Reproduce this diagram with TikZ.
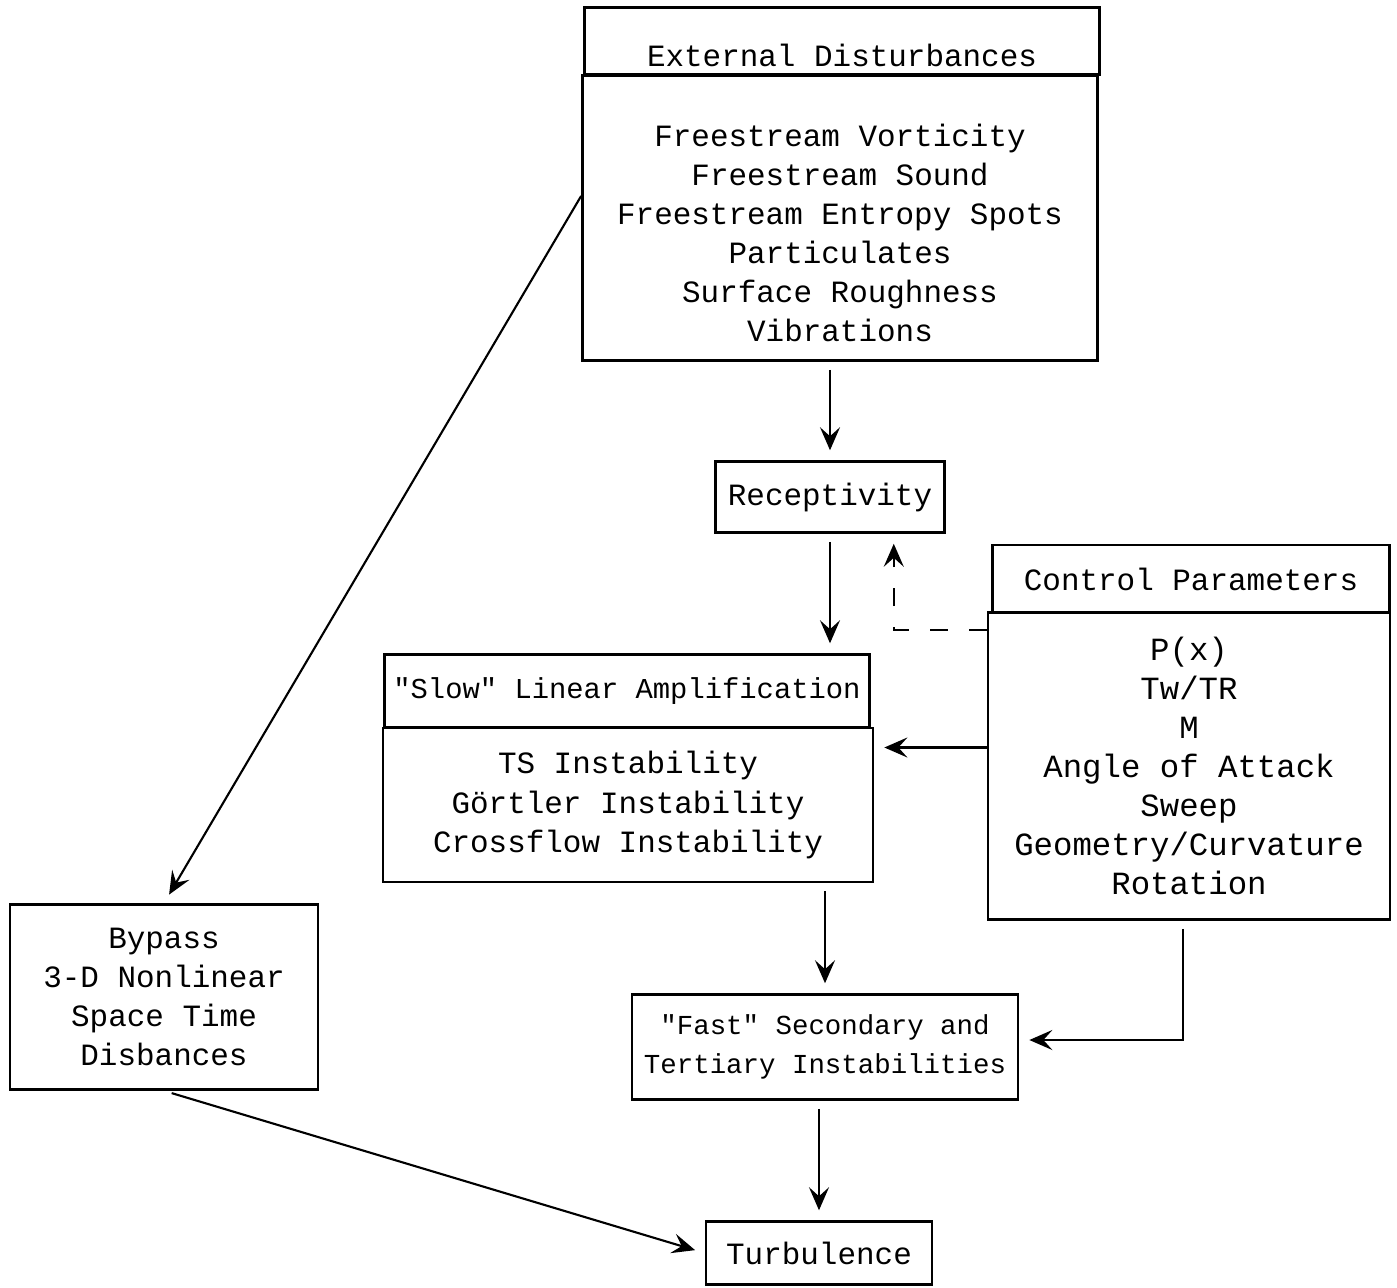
\documentclass[tikz,border=0pt]{standalone}
\usepackage{fontspec}
\setmonofont{Liberation Mono}
\usetikzlibrary{arrows.meta}

\begin{document}
\begin{tikzpicture}[x=0.01cm,y=-0.01cm,
  box/.style={draw,line width=0.7pt,inner sep=0pt,align=center,
    font=\ttfamily\fontsize{#1}{11.1}\selectfont},
  box/.default=8.8,
  arr/.style={line width=0.6pt,-{Stealth[length=2.3mm,width=2mm,inset=0.9mm]},
    shorten >=1mm,shorten <=0.8mm}]
\useasboundingbox (0,0) rectangle (1397,1287);
\node[box,minimum width=5.15cm,minimum height=0.67cm] (exthead) at (842,41) {\\[0.13cm]External Disturbances};
\node[box,minimum width=5.15cm,minimum height=2.85cm] (extbody) at (840,218) {\\[0.13cm]Freestream Vorticity\\Freestream Sound\\Freestream Entropy Spots\\Particulates\\Surface Roughness\\Vibrations};
\node[box,minimum width=2.29cm,minimum height=0.71cm] (recep) at (830,497) {Receptivity};
\node[box,minimum width=3.97cm,minimum height=0.68cm] (ctrlhead) at (1191,579) {Control Parameters};
\node[box=9.2,minimum width=4.02cm,minimum height=3.07cm] (ctrlbody) at (1189,766) {P(x)\\Tw/TR\\M\\Angle of Attack\\Sweep\\Geometry/Curvature\\Rotation};
\node[box=8.2,minimum width=4.85cm,minimum height=0.73cm] (slowhead) at (627,691) {"Slow" Linear Amplification};
\node[box,minimum width=4.9cm,minimum height=1.54cm] (slowbody) at (628,805) {TS Instability\\Görtler Instability\\Crossflow Instability};
\node[box,minimum width=3.08cm,minimum height=1.85cm] (bypass) at (164,997) {Bypass\\3-D Nonlinear\\Space Time\\Disbances};
\node[box=7.8,minimum width=3.86cm,minimum height=1.05cm] (fast) at (825,1047) {"Fast" Secondary and\\Tertiary Instabilities};
\node[box,minimum width=2.26cm,minimum height=0.63cm] (turb) at (819,1253) {Turbulence};
\draw[arr] (recep.north |- extbody.south) -- (recep.north);
\draw[arr] (recep.south) -- (recep.south |- slowhead.north);
\draw[arr] (fast.north |- slowbody.south) -- (fast.north);
\draw[arr] (turb.north |- fast.south) -- (turb.north);
\draw[arr,shorten <=0pt] ([yshift=2.2mm]extbody.west) -- (bypass.north);
\draw[arr] (bypass.south) -- (turb.west);
\draw[arr,shorten <=0pt,dash pattern=on 1.8mm off 2.1mm] ([yshift=-1.9mm]ctrlbody.north west) -| ([xshift=-5.2mm]recep.south east);
\coordinate (ctrlout) at ([yshift=1.85mm]ctrlbody.west);
\draw[arr,shorten <=0pt] (ctrlout) -- (ctrlout -| slowbody.east);
\draw[arr] ([xshift=-0.6mm]ctrlbody.south) |- ([yshift=0.7mm]fast.east);
\end{tikzpicture}
\end{document}
